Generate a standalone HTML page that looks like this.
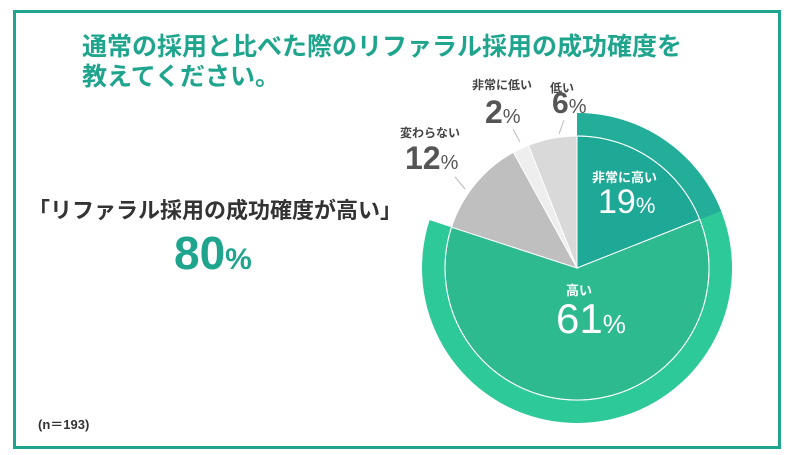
<!DOCTYPE html>
<html><head><meta charset="utf-8"><style>
body{margin:0;width:792px;height:455px;background:#fff;overflow:hidden;font-family:"Liberation Sans","Noto Sans CJK JP",sans-serif;}
.frame{position:absolute;left:13px;top:10px;width:762px;height:433px;border:3px solid #1fa58e;}
.t{position:absolute;white-space:nowrap;font-weight:bold;}
</style></head><body>
<div class="frame"></div>
<div class="t" style="left:82px;top:32px;font-size:25px;color:#1fa58e;line-height:30px;">通常の採用と比べた際のリファラル採用の成功確度を<br>教えてください。</div>
<div class="t" style="left:28px;top:193px;font-size:22px;color:#333;">「リファラル採用の成功確度が高い」</div>
<div class="t" style="left:174px;top:226px;font-size:46px;color:#1fa58e;">80<span style="font-size:30px">%</span></div>
<div class="t" style="left:38px;top:414px;font-size:13px;color:#333;">(n＝193)</div>
<svg style="position:absolute;left:0;top:0" width="792" height="455">
<path d="M577,113 A155,155 0 1 1 429.6,220.1 L451.5,227.2 A132,132 0 1 0 577,136 Z" fill="#2ec998"/>
<path d="M577,113 A155,155 0 0 1 721.1,211 L699.7,219.4 A132,132 0 0 0 577,136 Z" fill="#22ae99"/>
<path d="M577,268 L577,136 A132,132 0 0 1 699.7,219.4 Z" fill="#1ea896" stroke="#fff" stroke-width="1"/>
<path d="M577,268 L699.7,219.4 A132,132 0 1 1 451.5,227.2 Z" fill="#2dba8e" stroke="#fff" stroke-width="1"/>
<path d="M577,268 L451.5,227.2 A132,132 0 0 1 513.4,152.3 Z" fill="#bfbfbf" stroke="#fff" stroke-width="1"/>
<path d="M577,268 L513.4,152.3 A132,132 0 0 1 528.4,145.3 Z" fill="#eeeeee" stroke="#fff" stroke-width="1"/>
<path d="M577,268 L528.4,145.3 A132,132 0 0 1 577,136 Z" fill="#d9d9d9" stroke="#fff" stroke-width="1"/>
<path d="M577,136 A132,132 0 1 1 451.5,227.2" fill="none" stroke="#fff" stroke-width="1"/>
<g stroke="#bbb" stroke-width="1"><line x1="455" y1="177" x2="465" y2="189"/><line x1="513" y1="129" x2="520" y2="142"/><line x1="564" y1="120" x2="559" y2="134"/></g>
</svg>
<div class="t" style="left:400px;top:124px;font-size:12px;color:#444;">変わらない</div>
<div class="t" style="left:405px;top:140px;font-size:32px;color:#555;">12<span style="font-size:20px;font-weight:normal">%</span></div>
<div class="t" style="left:472px;top:76px;font-size:12px;color:#444;">非常に低い</div>
<div class="t" style="left:485px;top:94px;font-size:32px;color:#555;">2<span style="font-size:20px;font-weight:normal">%</span></div>
<div class="t" style="left:550px;top:79px;font-size:12px;color:#444;">低い</div>
<div class="t" style="left:552px;top:87px;font-size:30px;color:#555;">6<span style="font-size:20px;font-weight:normal">%</span></div>
<div class="t" style="left:592px;top:167px;font-size:13px;color:#fff;">非常に高い</div>
<div class="t" style="left:598px;top:183px;font-size:34px;color:#fff;font-weight:normal;">19<span style="font-size:22px">%</span></div>
<div class="t" style="left:566px;top:280px;font-size:13px;color:#fff;">高い</div>
<div class="t" style="left:556px;top:295px;font-size:42px;color:#fff;font-weight:normal;">61<span style="font-size:26px">%</span></div>
</body></html>
